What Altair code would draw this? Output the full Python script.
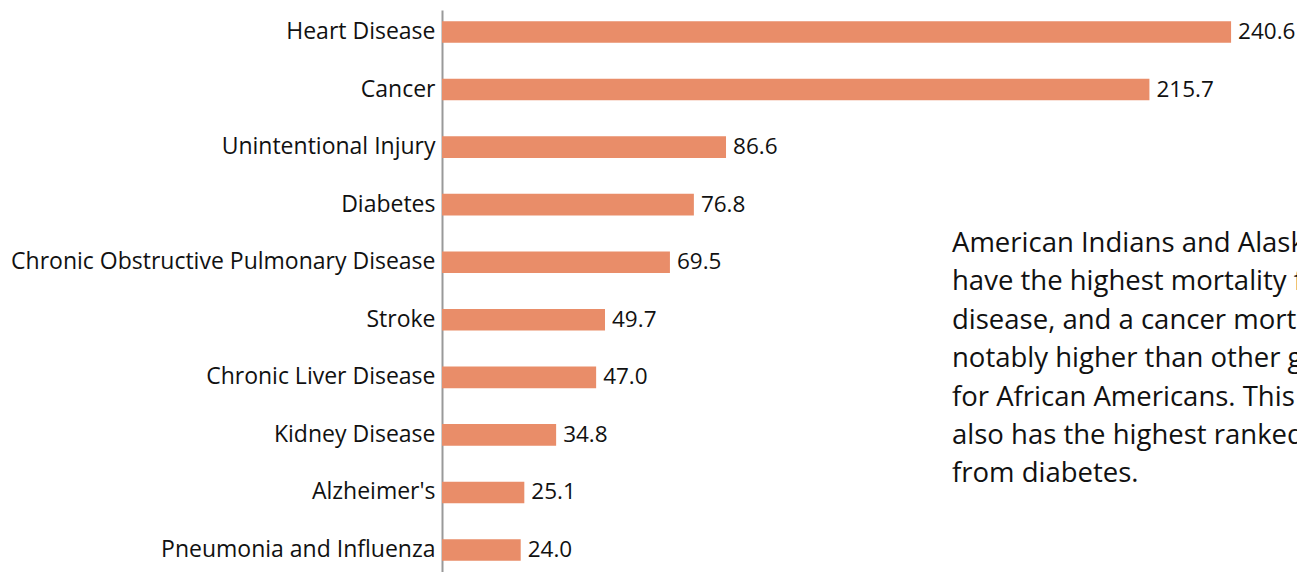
import altair as alt
import pandas as pd

categories = [
    "Heart Disease",
    "Cancer",
    "Unintentional Injury",
    "Diabetes",
    "Chronic Obstructive Pulmonary Disease",
    "Stroke",
    "Chronic Liver Disease",
    "Kidney Disease",
    "Alzheimer's",
    "Pneumonia and Influenza",
]
rates = [240.6, 215.7, 86.6, 76.8, 69.5, 49.7, 47.0, 34.8, 25.1, 24.0]

note_lines = [
    "American Indians and Alaska Natives",
    "have the highest mortality from heart",
    "disease, and a cancer mortality rate",
    "notably higher than other groups except",
    "for African Americans. This group",
    "also has the highest ranked mortality",
    "from diabetes.",
]

FONT = "Open Sans"
BAR = "#E98D69"

df = pd.DataFrame({"cause": categories, "rate": rates})

y_enc = alt.Y(
    "cause:N",
    sort=categories,
    title=None,
    scale=alt.Scale(paddingInner=0.625, paddingOuter=0.194),
    axis=alt.Axis(
        ticks=False,
        labelFont=FONT,
        labelFontSize=23,
        labelColor="#111111",
        labelPadding=7,
        labelLimit=500,
        domainColor="#999999",
        domainWidth=2,
        grid=False,
    ),
)
x_enc = alt.X(
    "rate:Q",
    title=None,
    axis=None,
    scale=alt.Scale(domain=[0, 260.7], nice=False, zero=True),
)

bars = alt.Chart(df).mark_bar(color=BAR).encode(x=x_enc, y=y_enc)

values = alt.Chart(df).mark_text(
    align="left", baseline="middle", dx=7, font=FONT, fontSize=22.5, color="#111111"
).encode(x=x_enc, y=y_enc, text=alt.Text("rate:Q", format=".1f"))

note = alt.Chart(pd.DataFrame({"k": [0]})).mark_text(
    align="left",
    baseline="alphabetic",
    font=FONT,
    fontSize=27.5,
    lineHeight=38.4,
    color="#111111",
    text=note_lines,
    clip=True,
).encode(x=alt.value(510), y=alt.value(242))

chart = (
    alt.layer(bars, values, note)
    .properties(
        width=855,
        height=562,
        padding={"left": 434, "top": 2, "right": 0, "bottom": 0},
        autosize=alt.AutoSizeParams(type="none"),
    )
    .configure(background="white")
    .configure_view(strokeWidth=0, stroke="transparent")
)

chart.save("out.html", embed_options={"renderer": "svg", "actions": False})
